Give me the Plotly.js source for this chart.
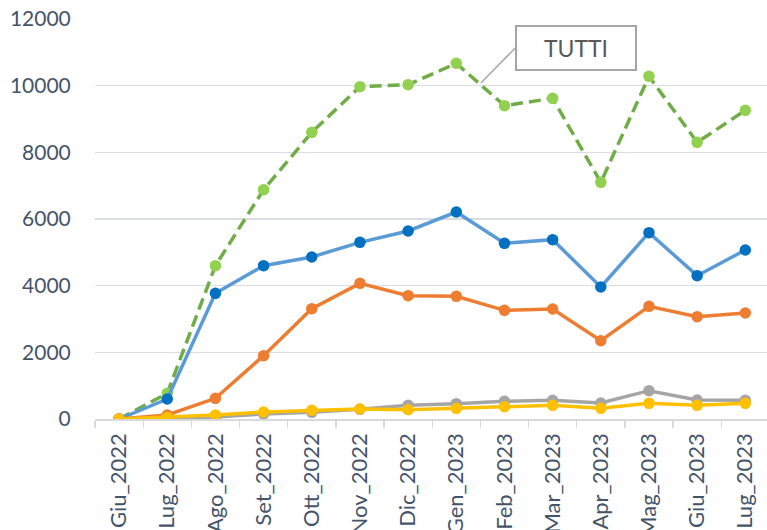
<!DOCTYPE html>
<html>
<head>
<meta charset="utf-8">
<script src="https://cdn.plot.ly/plotly-3.0.1.min.js"></script>
<style>
  html, body { margin: 0; padding: 0; background: #fff; }
  #chart { width: 767px; height: 530px; }
</style>
</head>
<body>
<div id="chart"></div>
<script>
const months = ["Giu_2022","Lug_2022","Ago_2022","Set_2022","Ott_2022","Nov_2022","Dic_2022",
                "Gen_2023","Feb_2023","Mar_2023","Apr_2023","Mag_2023","Giu_2023","Lug_2023"];
const tutti  = [0, 770, 4600, 6880, 8600, 9970, 10030, 10670, 9400, 9620, 7100, 10280, 8300, 9260];
const blue   = [0, 600, 3770, 4600, 4860, 5300, 5640, 6210, 5270, 5380, 3960, 5590, 4300, 5070];
const orange = [0, 120, 620, 1900, 3310, 4070, 3700, 3680, 3260, 3300, 2350, 3380, 3070, 3180];
const gray   = [0, 20, 60, 150, 200, 290, 410, 460, 530, 560, 480, 850, 570, 560];
const yellow = [0, 50, 120, 210, 260, 300, 280, 320, 370, 410, 320, 470, 410, 470];
const yTicks = [0, 2000, 4000, 6000, 8000, 10000, 12000];
const annText = "TUTTI";

function series(name, y, lineColor, markerColor, dash) {
  return {
    type: "scatter", mode: "lines+markers", name: name, x: months, y: y,
    line: {color: lineColor, width: 3.5, dash: dash || "solid"},
    marker: {color: markerColor, size: 11.5},
    hoverinfo: "x+y"
  };
}

const data = [
  series("TUTTI", tutti, "#70AD47", "#92D050", "12px,6px"),
  series("Serie 1", blue, "#5B9BD5", "#0070C0"),
  series("Serie 2", orange, "#ED7D31", "#ED7D31"),
  series("Serie 3", gray, "#A5A5A5", "#A5A5A5"),
  series("Serie 4", yellow, "#FFC000", "#FFC000")
];

const yFont = {family: "Lato, 'Open Sans', sans-serif", size: 21, color: "#44546A"};
const xFont = {family: "Lato, 'Open Sans', sans-serif", size: 22, color: "#44546A"};

const layout = {
  width: 767, height: 530,
  margin: {l: 95, r: 0, t: 19, b: 111, pad: 0},
  paper_bgcolor: "#ffffff", plot_bgcolor: "#ffffff",
  showlegend: false,
  xaxis: {
    type: "category",
    range: [-0.5, 13.45],
    tickson: "boundaries",
    ticks: "outside", ticklen: 7, tickcolor: "#D9D9D9", tickwidth: 1.3,
    ticklabelstandoff: 4,
    showline: true, linecolor: "#D9D9D9", linewidth: 1.5,
    showgrid: false, zeroline: false,
    tickangle: -90,
    tickfont: xFont,
    fixedrange: true
  },
  yaxis: {
    range: [0, 12000],
    tickvals: yTicks,
    ticktext: yTicks.map(String),
    ticks: "outside", ticklen: 19, tickcolor: "rgba(0,0,0,0)",
    showgrid: true, gridcolor: "#D9DDE3", gridwidth: 1.3,
    zeroline: false, showline: false,
    tickfont: yFont,
    fixedrange: true
  },
  shapes: [{
    type: "line", xref: "x", yref: "y",
    x0: 7.51, y0: 10080, x1: 8.24, y1: 11150,
    line: {color: "#A6A6A6", width: 1.5}
  }],
  annotations: [{
    xref: "x", yref: "y", x: 9.49, y: 11130,
    text: annText, showarrow: false,
    font: {family: "Lato, 'Open Sans', sans-serif", size: 23, color: "#595959"},
    bordercolor: "#A6A6A6", borderwidth: 2, borderpad: 0,
    bgcolor: "#ffffff",
    width: 118, height: 42,
    xanchor: "center", yanchor: "middle"
  }]
};

Plotly.newPlot("chart", data, layout, {displayModeBar: false, staticPlot: true});
</script>
</body>
</html>
